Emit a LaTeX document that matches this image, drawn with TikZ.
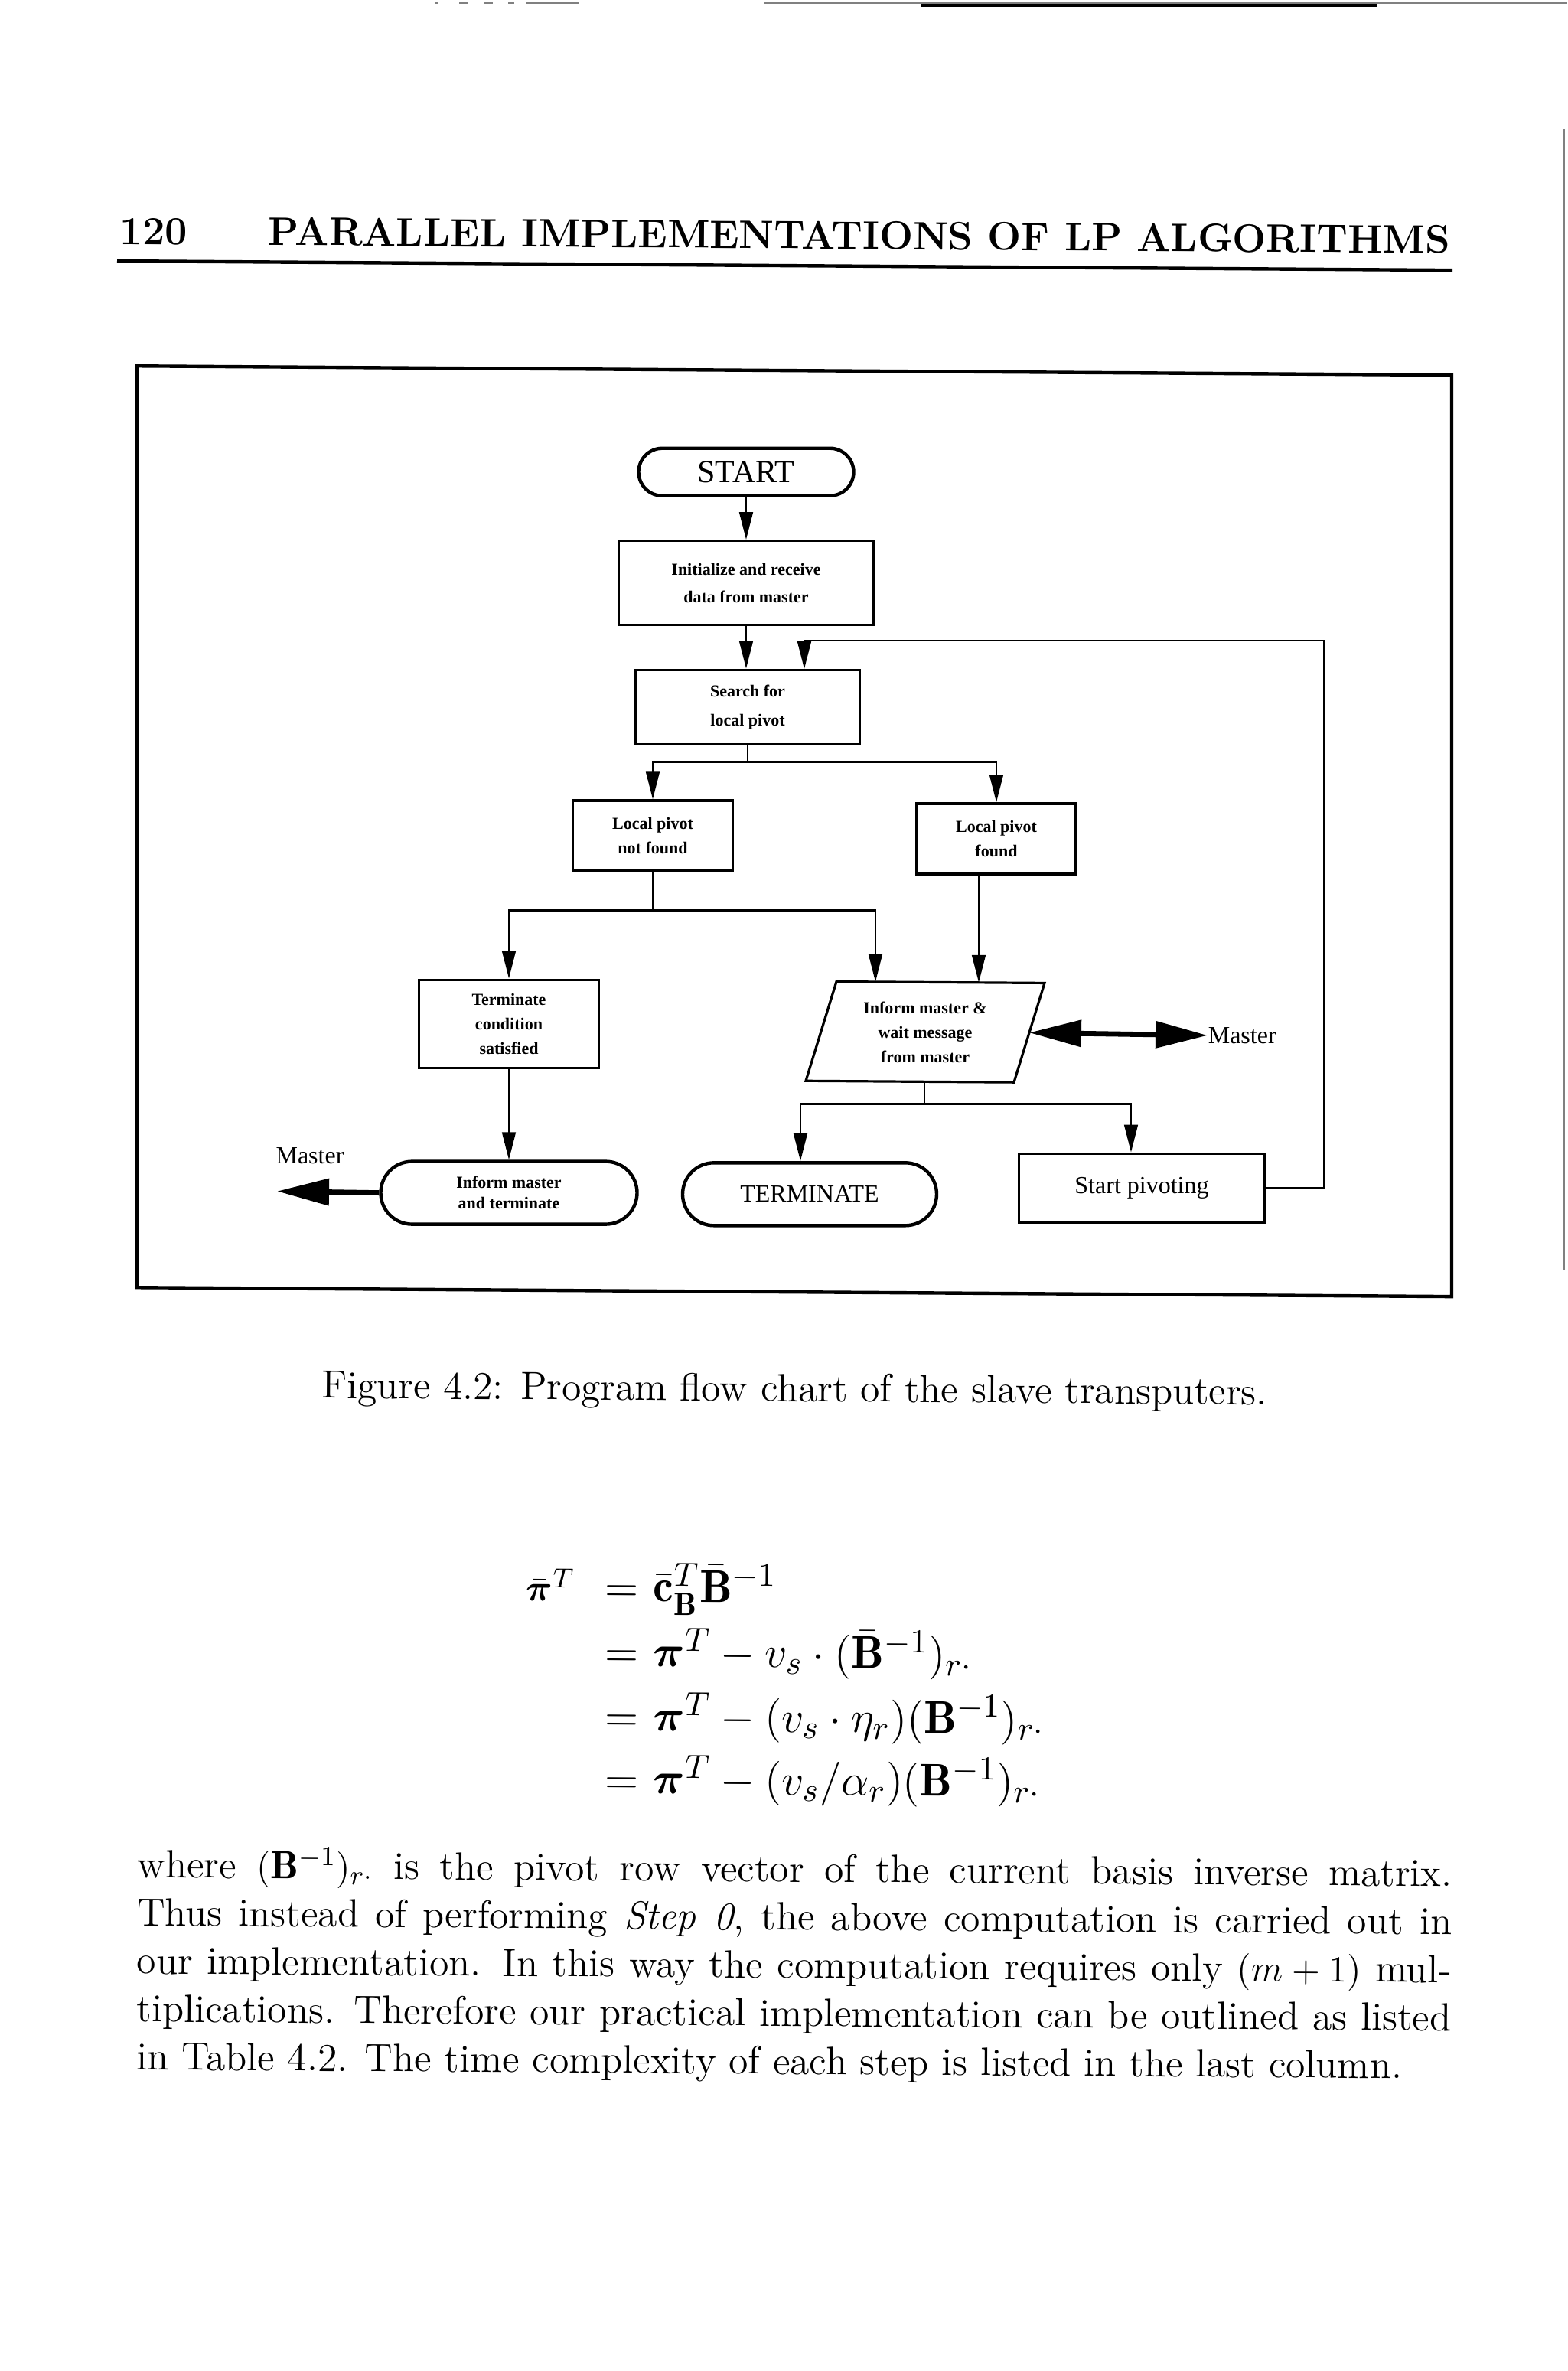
\documentclass[tikz,border=0pt]{standalone}
\usepackage{amsmath}
\usepackage{fontspec}
\newfontfamily\lib{Liberation Serif}
\usetikzlibrary{arrows.meta,calc}
\begin{document}
\begin{tikzpicture}[x={(0.25pt,-0.001725pt)}, y={(0pt,-0.25pt)},
  fbox/.style={draw, line width=0.8pt, inner sep=0pt, align=center, font=\lib\bfseries\fontsize{5.5}{8}\selectfont},
  stad/.style={draw, line width=1.1pt, inner sep=0pt, align=center},
  conn/.style={line width=0.7pt},
  arr/.style={conn, -{Triangle[length=9pt,width=4.4pt]}},
  bigarr/.style={line width=1.7pt},
  pagetext/.style={inner sep=0pt, rotate=-0.39, font=\fontsize{12.9}{15.7}\selectfont},
  mathtext/.style={inner sep=0pt, rotate=-0.39, font=\fontsize{15}{18}\selectfont},
  flabel/.style={inner sep=0pt, font=\lib\fontsize{8}{10}\selectfont},
]
\useasboundingbox (0pt,0pt) rectangle (512pt,-774.5pt);

% scan marks
\draw[gray, line width=0.5pt] (249.75pt,-1pt) -- (512pt,-1pt);
\draw[line width=1pt] (301pt,-1.8pt) -- (450pt,-1.8pt);
\draw[gray, line width=0.6pt] (142pt,-1pt) -- (143pt,-1pt) (150pt,-1pt) -- (153pt,-1pt) (158pt,-1pt) -- (161pt,-1pt) (166pt,-1pt) -- (168pt,-1pt) (172pt,-1pt) -- (189pt,-1pt);
\draw[gray, line width=0.5pt] (511pt,-42pt) -- (511pt,-415pt);

% header
\node[pagetext, anchor=base west, font=\bfseries\fontsize{13}{15}\selectfont] (pg) at (156,318) {120};
\node[pagetext, anchor=base west, font=\bfseries\fontsize{13}{15}\selectfont] (title) at (350,318) {PARALLEL IMPLEMENTATIONS OF LP ALGORITHMS};
\draw[line width=1.1pt] (153,340) -- (1898,340);

% frame
\draw[line width=1.1pt] (179,477) -- (1897,477) -- (1897,1681) -- (179,1681) -- cycle;

% flowchart nodes
\node[stad, minimum width=70.25pt, minimum height=15.5pt, rounded corners=7.75pt, font=\lib\fontsize{10.5}{12}\selectfont] (start) at (975,610) {START};
\node[fbox, minimum width=83.25pt, minimum height=27.5pt, font=\lib\bfseries\fontsize{5.5}{9}\selectfont] (init) at (975,755) {Initialize and receive\\data from master};
\node[fbox, minimum width=73.25pt, minimum height=24.25pt, font=\lib\bfseries\fontsize{5.5}{9.5}\selectfont] (search) at (977,917) {Search for\\local pivot};
\node[fbox, minimum width=52.25pt, minimum height=23pt] (nf) at (853,1086) {Local pivot\\not found};
\node[fbox, minimum width=52pt, minimum height=23pt] (found) at (1302,1087) {Local pivot\\found};
\node[fbox, minimum width=58.75pt, minimum height=28.75pt] (tc) at (665,1333) {Terminate\\condition\\satisfied};

\coordinate (pTL) at (1093,1275);
\coordinate (pTR) at (1365,1275);
\coordinate (pBR) at (1325,1405);
\coordinate (pBL) at (1053,1405);
\draw[line width=0.8pt] (pTL) -- (pTR) -- (pBR) -- (pBL) -- cycle;
\node[inner sep=0pt, align=center, font=\lib\bfseries\fontsize{5.5}{8}\selectfont] (inform) at (1209,1340) {Inform master \&\\wait message\\from master};
\coordinate (pIn1) at (1144,1275);
\coordinate (pIn2) at (1279,1275);
\coordinate (pOut) at (1208,1405);
\coordinate (pRight) at (1345,1340);

\node[stad, minimum width=83.75pt, minimum height=20.5pt, rounded corners=10.25pt, font=\lib\bfseries\fontsize{5.5}{6.8}\selectfont] (imt) at (665,1554) {Inform master\\and terminate};
\node[stad, minimum width=83pt, minimum height=20.5pt, rounded corners=10.25pt, font=\lib\fontsize{8}{10}\selectfont] (term) at (1058,1553) {TERMINATE};
\node[fbox, minimum width=80.25pt, minimum height=22.5pt, font=\lib\fontsize{8}{10}\selectfont] (sp) at (1492,1542) {Start pivoting};
\node[flabel, anchor=west] (mR) at (1578,1342) {Master};
\node[flabel] (mL) at (405,1507) {Master};

% connectors
\draw[arr] (start.south) -- (start.south |- init.north);
\draw[arr] (init.south) -- (init.south |- search.north);
\coordinate (loopR) at (1730,825);
\coordinate (loopIn) at ($(search.north)+(74,0)$);
\draw[arr] (sp.east) -| (loopR) -| (loopIn);
\coordinate (b1) at ($(search.south)+(0,22)$);
\draw[conn] (search.south) -- (b1);
\draw[arr] (b1) -| (nf.north);
\draw[arr] (b1) -| (found.north);
\coordinate (b2) at ($(nf.south)+(0,50)$);
\draw[conn] (nf.south) -- (b2);
\draw[arr] (b2) -| (tc.north);
\draw[arr] (b2) -| (pIn1);
\draw[arr] (found.south -| pIn2) -- (pIn2);
\draw[arr] (tc.south) -- (imt.north);
\coordinate (b3) at ($(pOut)+(0,29)$);
\coordinate (termIn) at ($(term.north)+(-12,0)$);
\coordinate (spIn) at ($(sp.north)+(-14,0)$);
\draw[conn] (pOut) -- (b3);
\draw[arr] (b3) -| (termIn);
\draw[arr] (b3) -| (spIn);
\draw[bigarr, {Triangle[length=17pt,width=8.5pt]}-{Triangle[length=17pt,width=8.5pt]}] (pRight) -- (mR.west);
\coordinate (mlTip) at (362,1554);
\draw[bigarr, -{Triangle[length=17pt,width=8.5pt]}] (imt.west) -- (mlTip);

% caption
\node[pagetext, anchor=base] (cap) at (1038,1824) {Figure 4.2: Program flow chart of the slave transputers.};

% equations
\node[mathtext, anchor=base east, font=\fontsize{13}{16}\selectfont] (e1l) at (752,2087) {$\bar{\boldsymbol{\pi}}^T$};
\node[mathtext, anchor=base] (e1m) at (812,2087) {$=$};
\node[mathtext, anchor=base west] (e1r) at (853,2087) {$\bar{\mathbf{c}}_{\mathbf{B}}^T\bar{\mathbf{B}}^{-1}$};
\node[mathtext, anchor=base] (e2m) at (812,2172) {$=$};
\node[mathtext, anchor=base west] (e2r) at (853,2172) {$\boldsymbol{\pi}^T-v_s\cdot(\bar{\mathbf{B}}^{-1})_{r\cdot}$};
\node[mathtext, anchor=base] (e3m) at (812,2256) {$=$};
\node[mathtext, anchor=base west] (e3r) at (853,2256) {$\boldsymbol{\pi}^T-(v_s\cdot\eta_r)(\mathbf{B}^{-1})_{r\cdot}$};
\node[mathtext, anchor=base] (e4m) at (812,2338) {$=$};
\node[mathtext, anchor=base west] (e4r) at (853,2338) {$\boldsymbol{\pi}^T-(v_s/\alpha_r)(\mathbf{B}^{-1})_{r\cdot}$};

% paragraph
\node[pagetext, anchor=base west] (body) at (179,2452) {\parbox[t]{429.5pt}{\tolerance=9999\noindent
where $(\mathbf{B}^{-1})_{r\cdot}$ is the pivot row vector of the current basis inverse matrix.\linebreak
Thus instead of performing \textit{Step 0}, the above computation is carried out in\linebreak
our implementation. In this way the computation requires only $(m+1)$ mul-\linebreak
tiplications. Therefore our practical implementation can be outlined as listed\linebreak
in Table 4.2. The time complexity of each step is listed in the last column.}};
\end{tikzpicture}
\end{document}
